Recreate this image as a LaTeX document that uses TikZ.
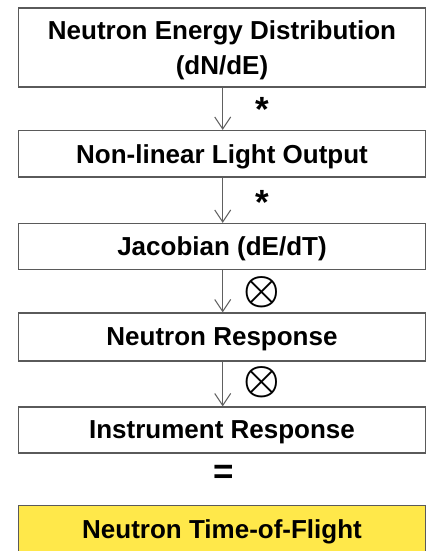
\documentclass[tikz,border=0pt]{standalone}
\usepackage{fontspec}
\usepackage{graphicx}
\setmainfont{Liberation Sans}
\usetikzlibrary{arrows.meta}
\definecolor{edgegray}{HTML}{5A5A5A}
\definecolor{arrowgray}{HTML}{606060}
\definecolor{tofyellow}{HTML}{FFE84A}
\tikzset{
  stagebox/.style={draw=edgegray, line width=1.3pt, fill=white, minimum width=407pt,
    inner sep=0pt, align=center, text depth=0pt, font=\bfseries\fontsize{26}{35}\selectfont},
  flowarrow/.style={draw=arrowgray, line width=1pt, -{Straight Barb[length=12pt,width=16pt,line width=1pt]}},
  oplabel/.style={inner sep=0pt, font=\bfseries\fontsize{35}{35}\selectfont},
  circlabel/.style={inner sep=0pt},
}
\begin{document}
\begin{tikzpicture}[x=1pt,y=-1pt]
\useasboundingbox[fill=white] (0,0) rectangle (427,551);
\node[stagebox, minimum height=79pt] (dist) at (222,47.5) {Neutron Energy Distribution\\(dN/dE)};
\node[stagebox, minimum height=46.5pt] (light) at (222,153.75) {Non-linear Light Output};
\node[stagebox, minimum height=46pt] (jac) at (222,246.5) {Jacobian (dE/dT)};
\node[stagebox, minimum height=48pt] (nresp) at (222,337) {Neutron Response};
\node[stagebox, minimum height=46pt] (iresp) at (222,430) {Instrument Response};
\node[stagebox, fill=tofyellow, minimum height=47pt] (tof) at (222,529) {Neutron Time-of-Flight};
\draw[flowarrow] (dist.south -| 222.7,0) -- (light.north -| 222.7,0);
\draw[flowarrow] (light.south -| 222.7,0) -- (jac.north -| 222.7,0);
\draw[flowarrow] (jac.south -| 222.7,0) -- (nresp.north -| 222.7,0);
\draw[flowarrow] (nresp.south -| 222.7,0) -- (iresp.north -| 222.7,0);
\node[oplabel] (conv1) at (262,109) {*};
\node[oplabel] (conv2) at (262,202) {*};
\node[circlabel] (prod1) at (262,292) {\scalebox{4.1}{\boldmath$\otimes$}};
\node[circlabel] (prod2) at (262,382) {\scalebox{4.1}{\boldmath$\otimes$}};
\node[oplabel] (equals) at (224,474) {=};
\end{tikzpicture}
\end{document}
